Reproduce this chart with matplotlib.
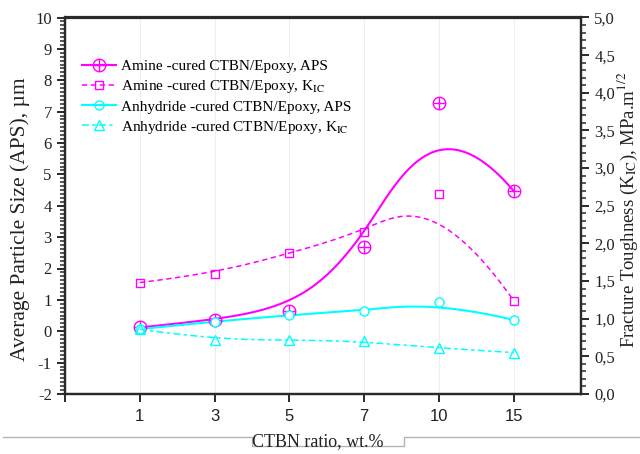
import numpy as np
import matplotlib
matplotlib.use("Agg")
import matplotlib.pyplot as plt
from matplotlib.path import Path
from matplotlib.lines import Line2D
from matplotlib.ticker import MultipleLocator, FuncFormatter

plt.rcParams['font.family'] = ['Liberation Serif', 'DejaVu Serif']
plt.rcParams['mathtext.fontset'] = 'stix'
plt.rcParams['lines.scale_dashes'] = False
plt.rcParams['axes.unicode_minus'] = False

ctbn_labels = ['1', '3', '5', '7', '10', '15']
amine_aps = [0.12, 0.37, 0.63, 2.68, 7.29, 4.47]
amine_kic = [1.48, 1.60, 1.87, 2.15, 2.65, 1.24]
anhyd_aps = [0.07, 0.31, 0.52, 0.66, 0.93, 0.36]
anhyd_kic = [0.86, 0.72, 0.72, 0.70, 0.61, 0.55]

MAG = '#ff00ff'
CYA = '#00ffff'


def bspline(xs, ys, n=300, k=3):
    # clamped uniform cubic B-spline, data points used as control points
    P = np.column_stack([xs, ys]).astype(float)
    m = len(P)
    t = np.concatenate([np.zeros(k), np.linspace(0, 1, m - k + 1), np.ones(k)])
    out = []
    for u in np.linspace(0, 1, n):
        s = min(np.searchsorted(t, u, side='right') - 1, m - 1)
        d = [P[j + s - k].copy() for j in range(k + 1)]
        for r in range(1, k + 1):
            for j in range(k, r - 1, -1):
                den = t[j + 1 + s - r] - t[j + s - k]
                a = 0.0 if den == 0 else (u - t[j + s - k]) / den
                d[j] = (1 - a) * d[j - 1] + a * d[j]
        out.append(d[k])
    out = np.array(out)
    return out[:, 0], out[:, 1]


# circle with a cross inside
oplus = Path.make_compound_path(
    Path.unit_circle(),
    Path([(-1, 0), (1, 0), (0, -1), (0, 1)],
         [Path.MOVETO, Path.LINETO, Path.MOVETO, Path.LINETO]))

x = np.arange(1, len(ctbn_labels) + 1)

fig = plt.figure(figsize=(6.4, 4.54), dpi=100)
ax = fig.add_axes([65 / 640, 1 - 394 / 454, 516 / 640, 376.5 / 454])
ax2 = ax.twinx()

dash_a = (0, (3.8, 2.6))
dash_b = (0, (5, 2.4, 2.4, 2.4))

# APS on the left axis
bx, by = bspline(x, amine_aps)
ax.plot(bx, by, color=MAG, lw=1.5, zorder=3)
ax.plot(x, amine_aps, ls='none', marker=oplus, ms=9, mfc='none', mec=MAG, mew=1.0, zorder=4)
bx, by = bspline(x, anhyd_aps)
ax.plot(bx, by, color=CYA, lw=1.5, zorder=3)
ax.plot(x, anhyd_aps, ls='none', marker='o', ms=6.5, mfc='white', mec=CYA, mew=1.0, zorder=4)

# K_IC on the right axis
bx, by = bspline(x, amine_kic)
ax2.plot(bx, by, color=MAG, lw=1.1, ls=dash_a)
ax2.plot(x, amine_kic, ls='none', marker='s', ms=6.2, mfc='none', mec=MAG, mew=1.0)
bx, by = bspline(x, anhyd_kic)
ax2.plot(bx, by, color=CYA, lw=1.1, ls=dash_b)
ax2.plot(x, anhyd_kic, ls='none', marker='^', ms=7.5, mfc='none', mec=CYA, mew=1.0)

ax.set_xlim(0, 6.9)
ax.set_ylim(-2, 10)
ax2.set_ylim(0, 5)

ax.set_xticks(np.arange(0, len(ctbn_labels) + 1))
ax.set_xticklabels([''] + ctbn_labels, family='Liberation Sans', fontsize=12)
ax.yaxis.set_major_locator(MultipleLocator(1))
ax.yaxis.set_minor_locator(MultipleLocator(0.125))
ax2.yaxis.set_major_locator(MultipleLocator(0.5))
ax2.yaxis.set_minor_locator(MultipleLocator(0.1))
ax2.yaxis.set_major_formatter(FuncFormatter(lambda v, p: f'{v:.1f}'.replace('.', ',')))

spine_c = '#2a2a2a'
for a in (ax, ax2):
    for s in a.spines.values():
        s.set_linewidth(1.6)
        s.set_color(spine_c)
    a.tick_params(which='major', length=6, width=1.4, color=spine_c, labelsize=12, labelcolor='#222222')
    a.tick_params(which='minor', length=3.5, width=1.1, color=spine_c)
ax.tick_params(axis='x', pad=5)
ax.tick_params(axis='y', which='minor', right=False)
ax.tick_params(axis='y', right=False)

ax.grid(axis='x', color='#eeeeee', lw=0.8)
ax.set_axisbelow(True)

ax.set_xlabel('CTBN ratio, wt.%', fontsize=13, color='#222222')
ax.xaxis.set_label_coords(0.49, -0.105)
ax.set_ylabel('Average Particle Size (APS), µm', fontsize=15.5, color='#222222')
ax.yaxis.set_label_coords(-0.068, 0.465)
ax2.set_ylabel(r'Fracture Toughness (K$_{\mathrm{IC}}$), MPa.m$^{1/2}$', fontsize=13.5, color='#222222')
ax2.yaxis.set_label_coords(1.068, 0.49)

handles = [
    Line2D([], [], color=MAG, lw=1.5, marker=oplus, ms=9, mfc='none', mec=MAG, mew=1.0),
    Line2D([], [], color=MAG, lw=1.1, ls=dash_a, marker='s', ms=6.2, mfc='none', mec=MAG, mew=1.0),
    Line2D([], [], color=CYA, lw=1.5, marker='o', ms=6.5, mfc='none', mec=CYA, mew=1.0),
    Line2D([], [], color=CYA, lw=1.1, ls=dash_b, marker='^', ms=7.5, mfc='none', mec=CYA, mew=1.0),
]
labels = ['Amine -cured CTBN/Epoxy, APS',
          r'Amine -cured CTBN/Epoxy, K$_{\mathrm{IC}}$',
          'Anhydride -cured CTBN/Epoxy, APS',
          r'Anhydride -cured CTBN/Epoxy, K$_{\mathrm{IC}}$']
ax2.legend(handles, labels, loc='upper left', bbox_to_anchor=(0.033, 0.889),
           frameon=False, fontsize=11, handlelength=2.2, handletextpad=0.35,
           borderpad=0, borderaxespad=0, labelspacing=0.33, numpoints=1)

# stray gray box edge along the bottom of the screenshot
px = np.array([3, 252, 252, 404, 404, 640])
py = np.array([437, 437, 446, 446, 437, 437])
fig.add_artist(Line2D(px / 640, 1 - py / 454, color='#b4b4b4', lw=1.0, zorder=0))

fig.savefig('out.png', dpi=100)
